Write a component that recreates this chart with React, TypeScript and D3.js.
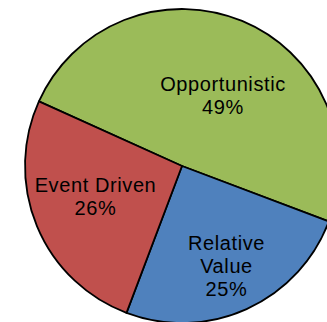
import React from "react";
import * as d3 from "d3";

const categories = ["Opportunistic", "Relative Value", "Event Driven"];
const values = [49, 25, 26];
const labelLines = [["Opportunistic", "49%"], ["Relative", "Value", "25%"], ["Event Driven", "26%"]];
const colors = ["#9BBB59", "#4F81BD", "#C0504D"];

const W = 327;
const H = 322;
const CX = 182;
const CY = 166;
const R = 157;
const START = (-65.7 * Math.PI) / 180;
const LABEL_R = 0.6;
// shift of each label's first baseline from its centroid (layout only)
const labelShift: [number, number][] = [
  [5, 11.5],
  [-19.6, 73.3],
  [0, 0],
];

export default function App() {
  const pie = d3
    .pie<number>()
    .sort(null)
    .value((d) => d)
    .startAngle(START)
    .endAngle(START + 2 * Math.PI);
  const arcs = pie(values);
  const arc = d3.arc<d3.PieArcDatum<number>>().innerRadius(0).outerRadius(R);
  const labelArc = d3
    .arc<d3.PieArcDatum<number>>()
    .innerRadius(R * LABEL_R)
    .outerRadius(R * LABEL_R);

  const targets: [number, number][] = [
    [223, 90.7],
    [226.5, 250],
    [95.5, 192],
  ];

  return (
    <svg
      width={W}
      height={H}
      style={{ position: "absolute", left: 0, top: 0, background: "#fff" }}
    >
      <g transform={`translate(${CX},${CY})`}>
        {arcs.map((a, i) => (
          <path
            key={categories[i]}
            d={arc(a) || ""}
            fill={colors[i]}
            stroke="#000"
            strokeWidth={1.8}
            strokeLinejoin="round"
          />
        ))}
      </g>
      {arcs.map((a, i) => {
        const c = labelArc.centroid(a);
        const bx = CX + c[0];
        const by = CY + c[1];
        const x = bx + (targets[i][0] - bx);
        const y = by + (targets[i][1] - by);
        return (
          <text
            key={"l" + i}
            x={x}
            y={y}
            textAnchor="middle"
            fontFamily="'Liberation Sans', Arial, sans-serif"
            fontSize={20}
            letterSpacing={0.6}
            fill="#000"
          >
            {labelLines[i].map((ln, j) => (
              <tspan key={j} x={x} dy={j === 0 ? 0 : 23}>
                {ln}
              </tspan>
            ))}
          </text>
        );
      })}
    </svg>
  );
}
